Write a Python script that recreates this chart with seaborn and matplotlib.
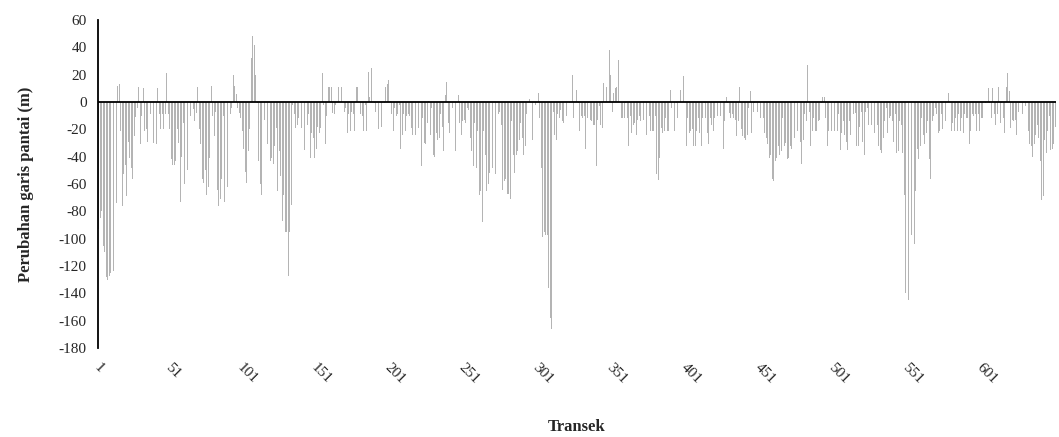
import pandas as pd
import seaborn as sns
import matplotlib.pyplot as plt

# perubahan garis pantai (m) per transek
seg_1 = [-93, -85, -80, -105, -110, -128, -130, -127, -125, -126,
         -124, -120, -74, 12, 13, -21, -76, -53, -46, -69,
         -29, -41, -48, -56, -25, -11, -4, 11, -31, -10,
         10, -21, -20, -29, -40, -9, -20, -30, -30, -31,
         10, -9, -20, -9, -20, -9, 21, -9, -20, -42, -46]
seg_2 = [-46, -43, -20, -30, -73, -40, -15, -60, -58, -50,
         -55, -10, 11, -5, -14, -8, 11, -20, -31, -56,
         -59, -50, -68, -62, -41, 12, -10, -25, -7, -64,
         -76, -71, -56, -10, -73, -71, -62, -23, -9, -4,
         20, 12, 6, -4, -8, -12, -21, -34, -51, -59,
         -36, -20, 32, 48]
seg_3 = [42, 20, -1, -43, -60, -68, -56, -13, -20, -31,
         -15, -43, -41, -45, -32, -19, -65, -36, -54, -87,
         -68, -95, -95, -127, -95, -75, -2, -9, -19, -17,
         -12, -24, -19, -9, -35, -36, -17, -9, -41,
         -23, -26, -41, -34, -18, -23, -19, 21, -2,
         -31, -10, 11, 11, 11, -8]
seg_4 = [-9, -2, 11, 11, 11, 11, -12, -7, -4, -23,
         -9, -21, -7, -9, -21, 11, 11, 0, -9, -10,
         -21, -2, -21, 22, 4, 25, 0, -1, -7,
         -10, -20, -31, -18, 2, -1, 11, 13, 16, 1,
         -9, -21, -4, -10, -9, -2, -34, -24, -9, -21,
         -10, -9, -10, -19, -24]
seg_5 = [-10, -24, -17, -19, -39, -47, -12, -30, -31, -15,
         1, -24, -4, -39, -40, -23, -28, -26, -9, -18,
         -36, 5, 15, -15, -23, -15, -4, -1, -36, -36,
         5, -15, -24, -14, -13, -15, -4, -6, -26, -36,
         -47, -15, -48, -21, -68, -65, -88, -21, -39, -65,
         -60, -52, -60, -48]
seg_6 = [-48, -53, -36, -9, -7, -17, -64, -58, -56, -67,
         -67, -71, -14, -39, -52, -39, -36, -28, -15, -26,
         -39, -32, -9, -3, 2, -4, -28, -13, -2, 0,
         7, -12, -48, -99, -95, -97, -97, -136, -158, -166,
         -7, -24, -28, -9, -12, -6, -14, -15, -9,
         -10, -8, -1, 8]
seg_7 = [20, -12, 0, 9, -1, -21, -10, -12, -10, -34,
         -12, -1, -13, -14, -17, -17, -47, -13, -3, -17,
         -19, 14, -1, 11, -6, 38, 20, -7, 7, 10,
         11, 31, 0, -12, -12, -12, -1, -12, -32, -10,
         -23, -17, -15, -24, -13, -10, -14, -9, -13, -25,
         -24, -10, -10, -21]
seg_8 = [-21, -21, -10, -53, -57, -41, -19, -23, -21, -12,
         -21, -21, 9, -4, 0, -21, -1, -12, -12, 9,
         9, 19, 0, -32, -12, -23, -21, -20, -32, -32,
         -21, -12, -23, -32, -12, -1, -12, -23, -31, -12,
         -17, -21, -12, -21, -10, -21, -10, -17, -34, -14,
         4, -1, -8, -12]
seg_9 = [-9, -12, -13, -25, -14, 11, -20, -25, -26, -28,
         -24, -4, 8, -23, -7, -1, -12, -7, -12, -12,
         -1, -12, -23, -26, -31, -41, -39, -56, -58, -43,
         -41, -32, -39, -36, -12, -32, -30, -42, -41, -32,
         -34, -21, -26, -32, -21, -32, -29, -45, -28, -9,
         -14, 27, -7, -32]
seg_10 = [-21, -12, -21, -21, -14, -13, -1, 4, 4, -12,
          -32, -21, -23, -21, -34, -21, -15, -21, -9, -35,
          -23, -14, -24, -29, -35, -14, -24, -1, -9, -8,
          -32, -32, -18, -7, -29, -39, -7, -4, -17, -29,
          -17, -26, -23, -18, -17, -32, -35, -37, -26, -14,
          -4, -23, -12, -10]
seg_11 = [-14, -29, -9, -37, -36, -14, -17, -37, -68, -140,
          -147, -145, -138, -97, -131, -104, -65, -34, -42, -32,
          -12, -24, -31, -23, -14, -42, -56, -14, -10, -4,
          -9, -23, -21, -9, -20, -23, -14, -1, 7, -14,
          -21, -15, -21, -12, -21, -9, -21, -12, -23, -9,
          -12, -12, -31, -21]
seg_12 = [-9, -10, -9, -21, -9, -21, -12, -12, 10, -1,
          -12, 10, -1, -12, 10, -9, -17, -9, 11, -15,
          -1, -12, -23, 11, 21, 8, -19, -13, -14, -13,
          -24, -7, -1, 8, -9, -12, -3, 0, -21, -31,
          -32, -40, -31, -24, -17, -26, -43, -72, -69, -28,
          -37, -21, -10, -35, -34, -31, -18]

perubahan = (seg_1 + seg_2 + seg_3 + seg_4 + seg_5 + seg_6 + seg_7 + seg_8
             + seg_9 + seg_10 + seg_11 + seg_12)
transek = list(range(1, len(perubahan) + 1))
df = pd.DataFrame({'Transek': transek, 'Perubahan': perubahan})

sns.set_style('white')
plt.rcParams['font.family'] = ['Liberation Serif', 'DejaVu Serif']
plt.rcParams['axes.unicode_minus'] = False

fig = plt.figure(figsize=(10.59, 4.37), dpi=100)
ax = fig.add_axes([0.0925, 0.2037, 0.9045, 0.7503])
sns.barplot(data=df, x='Transek', y='Perubahan', color='#b4b4b4', width=0.6,
            errorbar=None, saturation=1, linewidth=0, ax=ax)

n = len(perubahan)
ax.set_xlim(-0.5, n - 0.5)
ax.set_ylim(-180, 60)
ax.set_yticks(range(-180, 61, 20))
pos = list(range(0, n, 50))
ax.set_xticks(pos)
ax.set_xticklabels([str(transek[i]) for i in pos], rotation=-45, ha='center')
ax.axhline(0, color='black', lw=1.3, zorder=5)

for s in ['top', 'right', 'bottom']:
    ax.spines[s].set_visible(False)
ax.spines['left'].set_color('black')
ax.spines['left'].set_linewidth(1.3)
ax.tick_params(axis='x', length=0, pad=9, labelsize=11)
ax.tick_params(axis='y', length=0, pad=8, labelsize=11)

ax.set_xlabel('Transek', fontsize=12, fontweight='bold', labelpad=24)
ax.set_ylabel('Perubahan garis pantai (m)', fontsize=12, fontweight='bold', labelpad=18)

plt.savefig('out.png', dpi=100)
